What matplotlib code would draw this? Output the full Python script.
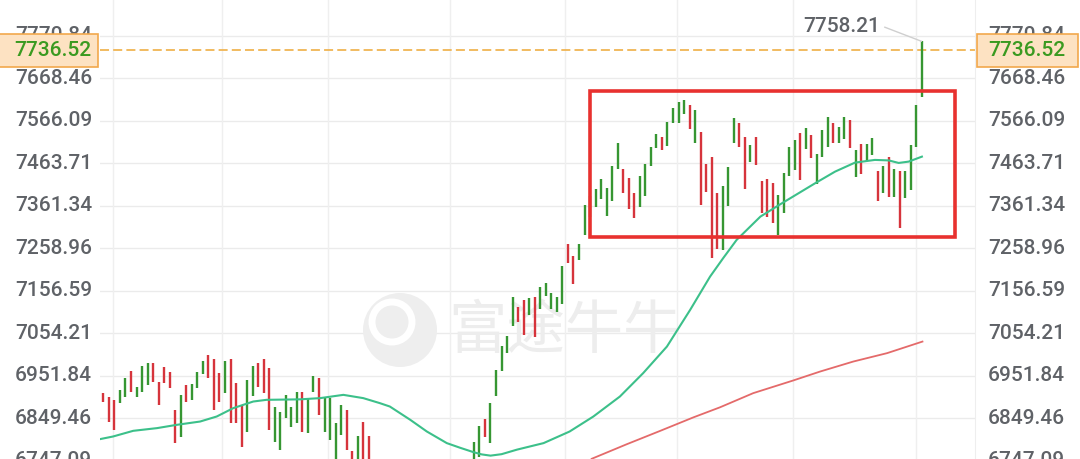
import numpy as np
import matplotlib.pyplot as plt
import matplotlib.transforms as mtransforms
from matplotlib.patches import Rectangle, Ellipse

nan = np.nan

# daily bars (high / low / up-day flag); hidden = below view
bar_high = [
    6910.1, 6902.0, 6894.0, 6918.1, 6946.3, 6963.9, 6926.0, 6975.9, 6983.9, 6983.9,
    6938.1, 6974.2, 6962.2, 6869.9, 6906.0, 6930.1, 6931.8, 6962.2, 6988.0, 7002.4,
    6992.0, 6958.3, 6988.0, 6992.0, 6935.0, 6882.0, 6942.2, 6975.9, 6983.9, 6992.0,
    6971.1, 6877.9, 6865.8, 6906.0, 6877.9, 6914.0, 6914.0, 6896.4, 6951.8, 6946.3,
    6898.1, 6898.8, 6837.9, 6882.0, 6869.9, 6771.1, 6806.1, 6841.7, 6807.3,
] + [nan] * 18 + [
    6793.5, 6831.4, 6847.5, 6886.0, 6966.3, 7024.1, 7048.2, 7142.8, 7118.8, 7134.9,
    7139.0, 7142.8, 7166.9, 7175.1, 7151.0, 7142.8, 7216.8, 7269.8, 7240.9, 7269.8,
    7363.8, 7385.0, 7401.6, 7425.7, 7404.0, 7457.7, 7513.8, 7449.8, 7428.1, 7391.9,
    7433.6, 7462.5, 7502.8, 7534.8, 7526.8, 7564.4, 7596.7, 7612.6, 7616.7, 7604.7,
    7592.6, 7540.3, 7462.5, 7479.4, 7391.9, 7409.5, 7454.6, 7572.6, 7560.6, 7526.8,
    7508.3, 7527.6, 7422.3, 7425.7, 7416.0, 7387.8, 7441.6, 7503.5, 7519.6, 7536.5,
    7548.5, 7532.4, 7486.6, 7544.4, 7576.5, 7560.6, 7551.7, 7576.5, 7568.5, 7495.5,
    7511.4, 7511.4, 7524.0, 7446.4, 7457.7, 7478.7, 7449.8, 7446.4, 7446.4, 7507.1,
    7604.7, 7758.21,
]
bar_low = [
    6889.9, 6841.7, 6821.7, 6886.0, 6902.0, 6914.0, 6900.5, 6914.0, 6930.1, 6938.1,
    6882.0, 6935.7, 6922.2, 6789.7, 6805.6, 6889.9, 6894.0, 6922.2, 6955.9, 6946.3,
    6869.9, 6889.9, 6910.1, 6837.9, 6838.6, 6781.5, 6817.6, 6903.6, 6925.0, 6910.9,
    6821.7, 6793.5, 6773.5, 6849.9, 6829.7, 6837.9, 6817.6, 6813.8, 6914.0, 6857.9,
    6816.9, 6797.6, 6735.0, 6809.7, 6773.5, 6720.0, 6730.0, 6720.0, 6710.0,
] + [nan] * 18 + [
    6730.0, 6757.4, 6805.6, 6789.7, 6902.4, 6964.6, 7006.0, 7071.5, 7082.6, 7050.6,
    7098.8, 7046.5, 7112.0, 7144.5, 7112.0, 7106.7, 7124.1, 7222.8, 7173.4, 7230.1,
    7291.5, 7335.0, 7359.7, 7377.5, 7336.1, 7374.1, 7449.8, 7393.4, 7353.4, 7331.7,
    7358.2, 7385.4, 7457.7, 7500.3, 7496.2, 7505.9, 7562.0, 7562.0, 7583.0, 7546.1,
    7512.4, 7363.8, 7395.8, 7235.4, 7257.8, 7255.3, 7361.3, 7512.4, 7504.2, 7401.6,
    7467.3, 7458.9, 7344.5, 7335.6, 7319.7, 7291.5, 7345.2, 7433.6, 7448.1, 7424.7,
    7499.1, 7476.2, 7415.1, 7479.4, 7504.2, 7512.4, 7512.4, 7523.2, 7500.3, 7431.2,
    7438.4, 7469.8, 7483.0, 7374.1, 7393.4, 7382.3, 7382.3, 7308.3, 7380.6, 7398.7,
    7504.2, 7623.9,
]
bar_up = [
    0, 0, 0, 1, 1, 0, 1, 1, 1, 0,
    0, 0, 0, 0, 1, 0, 1, 1, 1, 0,
    0, 0, 1, 0, 0, 0, 1, 1, 0, 0,
    0, 1, 1, 1, 1, 1, 0, 1, 1, 0,
    1, 1, 1, 1, 0, 0, 1, 0, 0,
] + [1] * 18 + [
    1, 1, 0, 1, 1, 1, 1, 1, 0, 0,
    1, 0, 1, 1, 1, 1, 1, 0, 0, 1,
    1, 1, 1, 1, 1, 1, 1, 0, 0, 0,
    1, 1, 1, 1, 0, 1, 1, 1, 1, 0,
    1, 0, 0, 0, 0, 1, 1, 1, 0, 0,
    1, 0, 0, 0, 0, 1, 1, 1, 1, 0,
    1, 0, 1, 1, 1, 0, 1, 1, 0, 1,
    0, 1, 1, 0, 1, 0, 1, 0, 1, 1,
    1, 1,
]

# short moving average (green)
ma_short_x = [-0.6, 1.75, 5.4, 9.7, 13.3, 17.5, 20.5, 23.5, 27.1, 29.5, 35.6, 39.2,
              43.4, 47.0, 50.0, 51.8, 55.5, 58.5, 62.1, 64.5, 66.9, 68.4, 70.0,
              72.0, 74.8, 79.6, 84.3, 88.6, 93.4, 97.6, 101.9, 106.1, 109.7,
              112.1, 114.5, 118.8, 122.7, 128.7, 132.3, 135.9, 139.5, 142.0,
              143.8, 145.6, 148.0]
ma_short = [6799.3, 6805.6, 6819.3, 6825.8, 6833.8, 6841.7, 6853.8, 6874.0, 6889.9,
            6894.0, 6895.2, 6898.1, 6906.0, 6898.1, 6886.0, 6877.9, 6845.8, 6817.6,
            6789.7, 6778.5, 6768.0, 6762.5, 6759.5, 6763.0, 6774.0, 6789.7, 6817.6,
            6853.8, 6902.0, 6958.3, 7022.4, 7110.8, 7191.0, 7236.0, 7279.4, 7335.6,
            7367.8, 7416.0, 7444.0, 7465.7, 7472.2, 7471.0, 7464.9, 7468.1, 7480.1]

# long moving average (red)
ma_long_x = [88.3, 94.6, 100.7, 106.7, 111.5, 117.5, 124.7, 129.6, 135.6, 141.7, 148.1]
ma_long = [6751.9, 6786.8, 6819.3, 6851.8, 6876.0, 6910.1, 6940.5, 6962.2, 6986.3,
           7006.5, 7034.4]

y_ticks = [7873.21, 7770.84, 7668.46, 7566.09, 7463.71, 7361.34, 7258.96,
           7156.59, 7054.21, 6951.84, 6849.46, 6747.09]
v_grid = [1.75, 21.5, 40.6, 62.7, 83.5, 103.7, 124.7, 147.0]

last_price = 7736.52
high_label = 7758.21
box_x = (88.0, 154.0)
box_y = (7285.5, 7637.2)

GREEN = '#369632'
RED = '#d6343c'
LABEL = '#5f6267'

plt.rcParams['font.family'] = ['Roboto', 'DejaVu Sans']

fig = plt.figure(figsize=(10.8, 4.59), dpi=100)
ax = fig.add_axes([100 / 1080, 0, 875 / 1080, 1])
ax.set_xlim(-0.6, 157.6)
ax.set_ylim(6751.4, 7857.6)

# grid
for t in y_ticks:
    ax.axhline(t, color='#ebebeb', lw=1, zorder=0)
for g in v_grid:
    ax.axvline(g, color='#efefef', lw=1, zorder=0)

# watermark
ax.text(83.5, 7057.8, '富途牛牛', fontsize=42, color='#ededed', ha='center',
        va='center', fontweight='medium',
        family=['Noto Sans CJK SC', 'DejaVu Sans'], zorder=0.5)
fig.add_artist(Ellipse((400 / 1080, 1 - 330 / 459), 74 / 1080, 74 / 459,
                       fc='#eeeeee', ec='none', zorder=0.5))
fig.add_artist(Ellipse((392 / 1080, 1 - 322 / 459), 40 / 1080, 40 / 459,
                       fc='none', ec='white', lw=5, zorder=0.6))

# bars
idx = np.arange(len(bar_high))
cols = [GREEN if u else RED for u in bar_up]
ax.vlines(idx, bar_low, bar_high, colors=cols, lw=1.7, zorder=3)

# moving averages
ax.plot(ma_short_x, ma_short, color='#3cc08a', lw=1.5, zorder=4,
        solid_joinstyle='round')
ax.plot(ma_long_x, ma_long, color='#e46a6a', lw=1.3, zorder=4)

# last price line
ax.axhline(last_price, color='#f0b554', lw=1.3, dashes=(5, 2.3), zorder=2)

# highlight box
ax.add_patch(Rectangle((box_x[0], box_y[0]), box_x[1] - box_x[0], box_y[1] - box_y[0],
                       fill=False, ec='#e8312f', lw=2.6, zorder=5))

# high annotation
ax.text(140.5, 7792.6, f'{high_label:.2f}', fontsize=15, color=LABEL,
        fontweight='medium', ha='right', va='center', zorder=6)
ax.plot([141.3, 147.9], [7792.0, high_label], color='#cfcfcf', lw=1, zorder=5)

# axis labels on both sides
blend = mtransforms.blended_transform_factory(fig.transFigure, ax.transData)
for t in y_ticks:
    ax.text(92 / 1080, t, f'{t:.2f}', transform=blend, ha='right', va='center',
            fontsize=15, fontweight='medium', color=LABEL, clip_on=False, zorder=6)
    ax.text(988 / 1080, t, f'{t:.2f}', transform=blend, ha='left', va='center',
            fontsize=15, fontweight='medium', color=LABEL, clip_on=False, zorder=6)

half = 40
for x0, w, tx, ha in [(-0.002, 100 / 1080, 91 / 1080, 'right'),
                      (977 / 1080, 101 / 1080, 988 / 1080, 'left')]:
    fig.add_artist(Rectangle((x0, last_price - half), w, 2 * half, transform=blend,
                             fc='#fde2c2', ec='#f2a84c', lw=1.2, zorder=7))
    fig.text(tx, last_price, f'{last_price:.2f}', transform=blend, ha=ha,
             va='center', fontsize=15, fontweight='medium', color='#3a9a20',
             zorder=8)

for s in ['top', 'bottom', 'left']:
    ax.spines[s].set_visible(False)
ax.spines['right'].set_color('#eeeeee')
ax.set_xticks([])
ax.set_yticks([])

fig.savefig('out.png', dpi=100)
